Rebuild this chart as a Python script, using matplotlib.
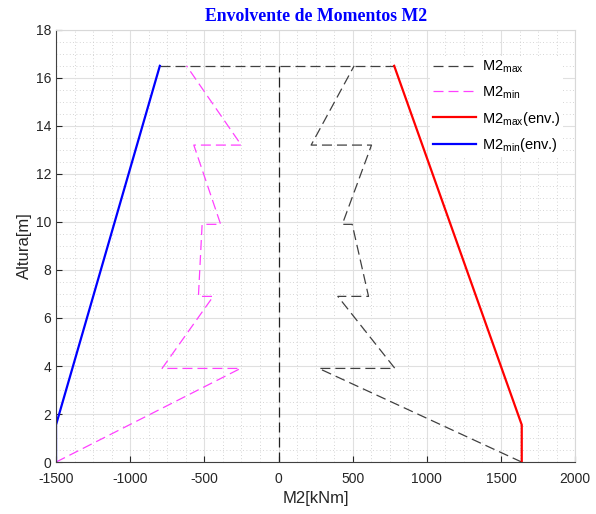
import matplotlib
matplotlib.use("Agg")
import matplotlib.pyplot as plt
from matplotlib.ticker import MultipleLocator

plt.rcParams['font.family'] = ['Liberation Sans', 'DejaVu Sans']
plt.rcParams['axes.unicode_minus'] = False

# Heights (m)
h = [0, 3.9, 3.9, 6.9, 6.9, 9.9, 9.9, 13.2, 13.2, 16.5]
# M2 max / min (kNm)
m2_max = [1640, 272, 785, 400, 607, 497, 430, 627, 220, 510]
m2_min = [-1500, -256, -785, -440, -540, -515, -390, -571, -251, -620]

# Envelopes
env_h = [0, 1.55, 16.5]
env_max = [1640, 1640, 780]
env_min = [-1500, -1500, -800]

# Reference lines
zero_x = [0, 0]
zero_h = [0, 16.5]
top_x = [-800, 780]
top_h = [16.5, 16.5]

fig = plt.figure(figsize=(5.96, 5.14), dpi=100)
ax = fig.add_axes([0.094, 0.101, 0.871, 0.841])

dash = (8, 4)
ax.plot(zero_x, zero_h, color='#202020', lw=0.9, dashes=dash)
ax.plot(top_x, top_h, color='#404040', lw=0.9, dashes=dash)
l1, = ax.plot(m2_max, h, color='#404040', lw=0.9, dashes=dash, label=r'M2$_\mathregular{max}$')
l2, = ax.plot(m2_min, h, color='#ff40ff', lw=0.9, dashes=dash, label=r'M2$_\mathregular{min}$')
l3, = ax.plot(env_max, env_h, color='#ff0000', lw=1.6, label=r'M2$_\mathregular{max}$(env.)')
l4, = ax.plot(env_min, env_h, color='#0000ff', lw=1.6, label=r'M2$_\mathregular{min}$(env.)')

ax.set_xlim(-1500, 2000)
ax.set_ylim(0, 18)
ax.xaxis.set_major_locator(MultipleLocator(500))
ax.xaxis.set_minor_locator(MultipleLocator(125))
ax.yaxis.set_major_locator(MultipleLocator(2))
ax.yaxis.set_minor_locator(MultipleLocator(0.5))
ax.grid(which='major', color='#e0e0e0', lw=0.8)
ax.grid(which='minor', color='#c8c8c8', lw=0.6, linestyle=(0, (1, 3)))
ax.set_axisbelow(True)

ax.tick_params(which='both', direction='in', top=False, right=False, labelsize=10, colors='#262626')
ax.tick_params(which='minor', length=0)
ax.tick_params(which='major', length=4)
ax.tick_params(axis='x', pad=7)
for s in ['left', 'bottom']:
    ax.spines[s].set_color('#404040')
for s in ['top', 'right']:
    ax.spines[s].set_color('#d8d8d8')

ax.set_xlabel('M2[kNm]', fontsize=12, color='#262626', labelpad=4)
ax.set_ylabel('Altura[m]', fontsize=12, color='#262626', labelpad=3)
ax.set_title('Envolvente de Momentos M2', fontsize=12.8, fontweight='bold',
             color='#0000ff', family='Liberation Serif', pad=6)

leg = ax.legend(handles=[l1, l2, l3, l4], loc='upper left',
                bbox_to_anchor=(0.72, 0.94), borderaxespad=0, fontsize=10.5,
                frameon=True, facecolor='white', edgecolor='none', framealpha=1,
                borderpad=0.2, handlelength=3.0, labelspacing=0.6, handletextpad=0.35)

fig.savefig('out.png', dpi=100)
